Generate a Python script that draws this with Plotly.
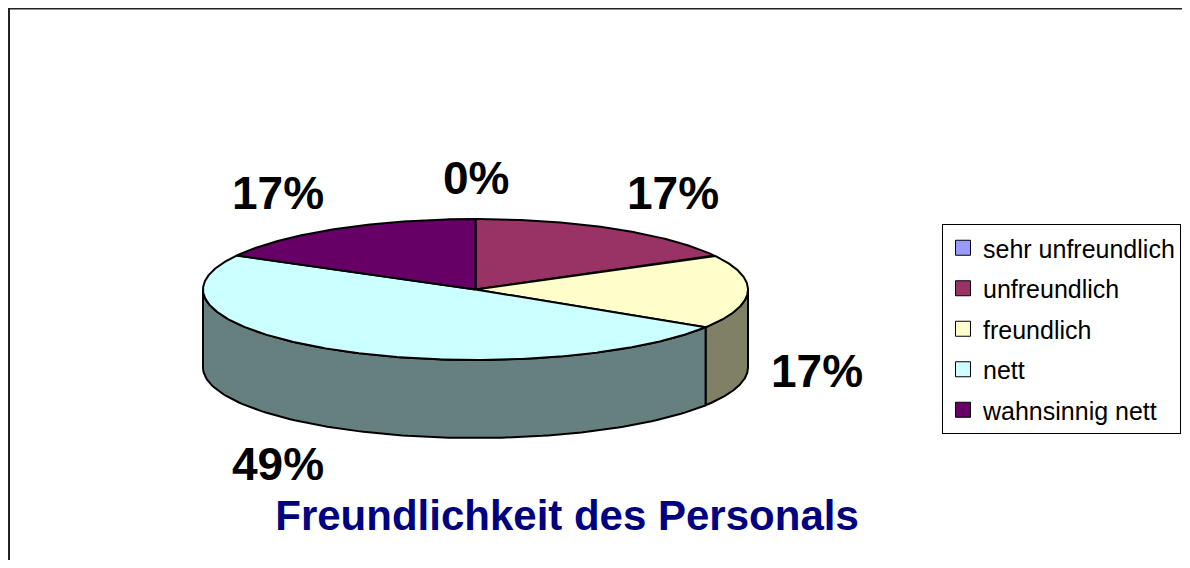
import numpy as np
import plotly.graph_objects as go

# ---- data ----
categories = ["sehr unfreundlich", "unfreundlich", "freundlich", "nett", "wahnsinnig nett"]
values = [0, 17, 17, 49, 17]
top_colors = ["#9999FF", "#993366", "#FFFFCC", "#CCFFFF", "#660066"]
title_text = "Freundlichkeit des Personals"

# ---- layout / geometry (page pixels; the page body has an 8px margin) ----
PAGE_W, PAGE_H = 1190, 568
OFF = 8
W, H = PAGE_W - 2 * OFF, PAGE_H - 2 * OFF
CX, CY = 475.5, 289.5
RX, RY = 272.5, 70.5
DEPTH = 78
LBL_RX, LBL_RY = 294, 112
FONT = "Liberation Sans, Arial, sans-serif"


def darken(hexc, f=0.5):
    hexc = hexc.lstrip("#")
    r, g, b = (int(hexc[i:i + 2], 16) for i in (0, 2, 4))
    return "#%02X%02X%02X" % (round(r * f), round(g * f), round(b * f))


def ell(t_deg, dy=0.0):
    t = np.radians(t_deg)
    return CX + RX * np.cos(t), CY - RY * np.sin(t) + dy


def px_x(p):
    return (p - OFF) / W


def px_y(p):
    return 1 - (p - OFF) / H


total = float(sum(values))
spans = [360.0 * v / total for v in values]
starts, ends = [], []
a = 90.0
for s in spans:
    starts.append(a)
    ends.append(a - s)
    a -= s

fig = go.Figure()
outline = dict(color="black", width=2)

# side walls (front half only, angles between -180 and 0)
for i, cat in enumerate(categories):
    lo, hi = max(ends[i], -180.0), min(starts[i], 0.0)
    if hi - lo <= 0:
        continue
    t = np.linspace(lo, hi, 120)
    xt, yt = ell(t)
    xb, yb = ell(t[::-1], DEPTH)
    xs = np.concatenate([xt, xb, xt[:1]])
    ys = np.concatenate([yt, yb, yt[:1]])
    fig.add_trace(go.Scatter(x=xs, y=ys, mode="lines", fill="toself",
                             fillcolor=darken(top_colors[i]), line=outline,
                             showlegend=False, hoverinfo="skip", legendgroup=cat))

# top faces
for i, cat in enumerate(categories):
    if values[i] <= 0:
        continue
    n = max(int(abs(spans[i]) * 2), 4)
    t = np.linspace(starts[i], ends[i], n)
    xa, ya = ell(t)
    xs = np.concatenate([[CX], xa, [CX]])
    ys = np.concatenate([[CY], ya, [CY]])
    fig.add_trace(go.Scatter(x=xs, y=ys, mode="lines", fill="toself",
                             fillcolor=top_colors[i], line=outline,
                             name=cat, showlegend=False, legendgroup=cat,
                             hovertemplate=f"{cat}: {values[i]}<extra></extra>"))

# legend entries
for i, cat in enumerate(categories):
    fig.add_trace(go.Scatter(x=[None], y=[None], mode="markers", name=cat,
                             legendgroup=cat,
                             marker=dict(symbol="square", size=15, color=top_colors[i],
                                         line=dict(color="black", width=1))))

# percentage labels
for i, cat in enumerate(categories):
    pct = round(100.0 * values[i] / total)
    m = (starts[i] + ends[i]) / 2.0
    c, s = np.cos(np.radians(m)), np.sin(np.radians(m))
    x = CX + LBL_RX * c
    y = CY - LBL_RY * s + (DEPTH if s < 0 else 0)
    xanchor = "left" if c > 0.3 else ("right" if c < -0.3 else "center")
    fig.add_annotation(x=x, y=y, xref="x", yref="y", text=f"{pct}%", showarrow=False,
                       xanchor=xanchor, yanchor="middle",
                       font=dict(family=FONT, size=46, color="black", weight="bold"))

# outer frame (right and bottom edges fall outside the picture)
fig.add_shape(type="rect", xref="x", yref="y", x0=9, y0=8.5, x1=PAGE_W + 20, y1=PAGE_H + 20,
              line=dict(color="#222222", width=2), fillcolor="rgba(0,0,0,0)", layer="above")

fig.update_layout(
    width=W, height=H,
    margin=dict(l=0, r=0, t=0, b=0),
    paper_bgcolor="white", plot_bgcolor="white",
    title=dict(text=f"<b>{title_text}</b>", x=px_x(567), y=px_y(515),
               xanchor="center", yanchor="middle", xref="paper", yref="container",
               font=dict(family=FONT, size=42, color="#000080")),
    xaxis=dict(range=[OFF, OFF + W], visible=False, fixedrange=True),
    yaxis=dict(range=[OFF + H, OFF], visible=False, fixedrange=True),
    showlegend=True,
    legend=dict(x=px_x(942), y=px_y(224), xanchor="left", yanchor="top",
                bgcolor="white", bordercolor="black", borderwidth=1,
                tracegroupgap=5, traceorder="grouped",
                font=dict(family=FONT, size=25, color="black")),
)

fig.write_html("out.html")
